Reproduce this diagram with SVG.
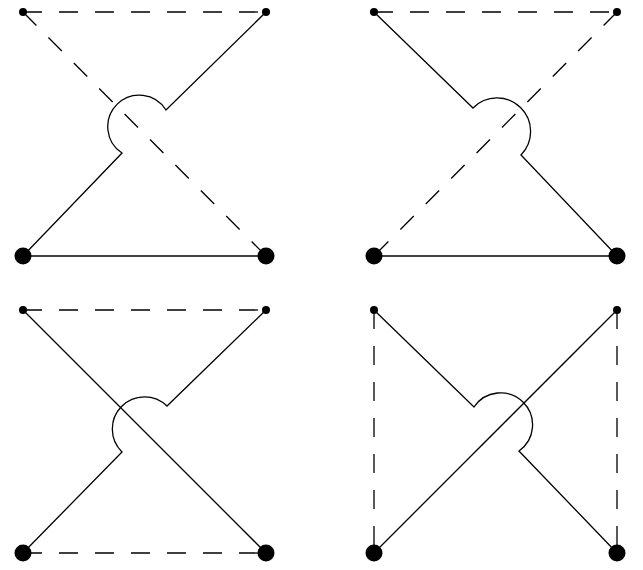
<svg xmlns="http://www.w3.org/2000/svg" width="643" height="570" viewBox="0 0 643 570">
<style>
.s{fill:none;stroke:#000;stroke-width:1.3}
.d{fill:none;stroke:#000;stroke-width:1.3;stroke-dasharray:19 17}
.p{fill:#000}
</style>
<rect width="643" height="570" fill="#fff"/>
<g id="connectors">
<!-- top-left -->
<line class="d" x1="23" y1="12" x2="266" y2="12"/>
<line class="d" x1="23" y1="12" x2="266" y2="256"/>
<path class="s" d="M266,12 L166,110 A31.5,31.5 0 1 0 122,153 L23,256"/>
<line class="s" x1="23" y1="256" x2="266" y2="256"/>
<!-- top-right -->
<line class="d" x1="374" y1="12" x2="617" y2="12"/>
<line class="d" x1="617" y1="12" x2="374" y2="256"/>
<path class="s" d="M374,12 L473,108 A31.5,31.5 0 1 1 521,155 L617,256"/>
<line class="s" x1="374" y1="256" x2="617" y2="256"/>
<!-- bottom-left -->
<line class="d" x1="23" y1="310" x2="266" y2="310"/>
<line class="d" x1="23" y1="553" x2="266" y2="553"/>
<line class="s" x1="23" y1="310" x2="266" y2="553"/>
<path class="s" d="M266,310 L167,406 A32,32 0 1 0 122,452 L23,553"/>
<!-- bottom-right -->
<line class="d" x1="374" y1="310" x2="374" y2="553"/>
<line class="d" x1="617" y1="310" x2="617" y2="553"/>
<line class="s" x1="374" y1="553" x2="617" y2="310"/>
<path class="s" d="M374,310 L474,407 A32,32 0 1 1 519,451 L617,553"/>
</g>
<g id="n1"><circle class="p" cx="23" cy="12" r="4"/></g>
<g id="n2"><circle class="p" cx="266" cy="12" r="4"/></g>
<g id="n3"><circle class="p" cx="23" cy="256" r="8.5"/></g>
<g id="n4"><circle class="p" cx="266" cy="256" r="8.5"/></g>
<g id="n5"><circle class="p" cx="374" cy="12" r="4"/></g>
<g id="n6"><circle class="p" cx="617" cy="12" r="4"/></g>
<g id="n7"><circle class="p" cx="374" cy="256" r="8.5"/></g>
<g id="n8"><circle class="p" cx="617" cy="256" r="8.5"/></g>
<g id="n9"><circle class="p" cx="23" cy="310" r="4"/></g>
<g id="n10"><circle class="p" cx="266" cy="310" r="4"/></g>
<g id="n11"><circle class="p" cx="23" cy="553" r="8.5"/></g>
<g id="n12"><circle class="p" cx="266" cy="553" r="8.5"/></g>
<g id="n13"><circle class="p" cx="374" cy="310" r="4"/></g>
<g id="n14"><circle class="p" cx="617" cy="310" r="4"/></g>
<g id="n15"><circle class="p" cx="374" cy="553" r="8.5"/></g>
<g id="n16"><circle class="p" cx="617" cy="553" r="8.5"/></g>
</svg>
